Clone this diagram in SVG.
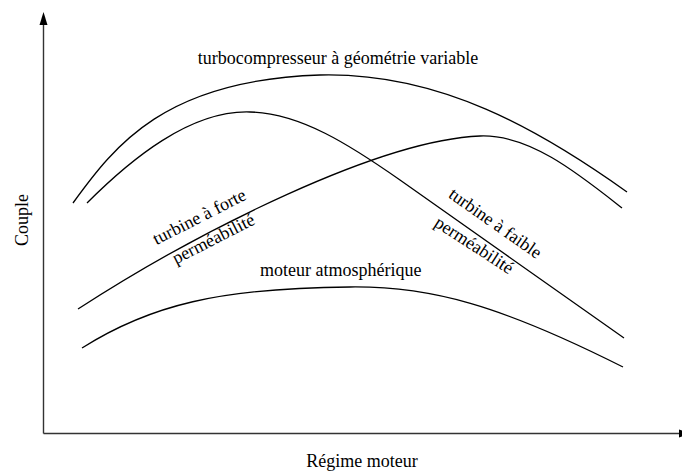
<svg xmlns="http://www.w3.org/2000/svg" width="682" height="472" viewBox="0 0 682 472">
<style>
.ax{stroke:#333;stroke-width:1.4;fill:none}
.cv{stroke:#000;stroke-width:1.3;fill:none}
text{font-family:"Liberation Serif","Times New Roman",serif;font-size:18px;fill:#000}
</style>
<rect width="682" height="472" fill="#fff"/>
<g id="axes">
<line class="ax" x1="43.5" y1="24" x2="43.5" y2="433.5"/>
<line class="ax" x1="43.5" y1="433.5" x2="680" y2="433.5"/>
<polygon points="43.5,12 39.5,25 47.5,25" fill="#000"/>
<polygon points="692,433.5 679,429.5 679,437.5" fill="#000"/>
</g>
<g id="curves">
<path id="vgt" class="cv" d="M73,203 C115,145 165,80 320,75 C440,72 540,130 627,192"/>
<path id="faible" class="cv" d="M87,203 C130,160 190,110 250,112 C300,113 350,145 400,180 L624,338"/>
<path id="forte" class="cv" d="M78,309 C200,230 380,140 480,136 C530,134 580,175 622,208"/>
<path id="atmo" class="cv" d="M82,348 C150,305 220,288 350,287 C430,286 500,305 623,367"/>
</g>
<g id="labels">
<text x="338" y="64" text-anchor="middle">turbocompresseur à géométrie variable</text>
<text x="260" y="276">moteur atmosphérique</text>
<text transform="translate(202,222) rotate(-27)" text-anchor="middle">turbine à forte</text>
<text transform="translate(216,244) rotate(-27)" text-anchor="middle">perméabilité</text>
<text transform="translate(492,228) rotate(35)" text-anchor="middle">turbine à faible</text>
<text transform="translate(471,250) rotate(33)" text-anchor="middle">perméabilité</text>
<text transform="translate(28,220) rotate(-90)" text-anchor="middle">Couple</text>
<text x="362" y="467" text-anchor="middle">Régime moteur</text>
</g>
</svg>
